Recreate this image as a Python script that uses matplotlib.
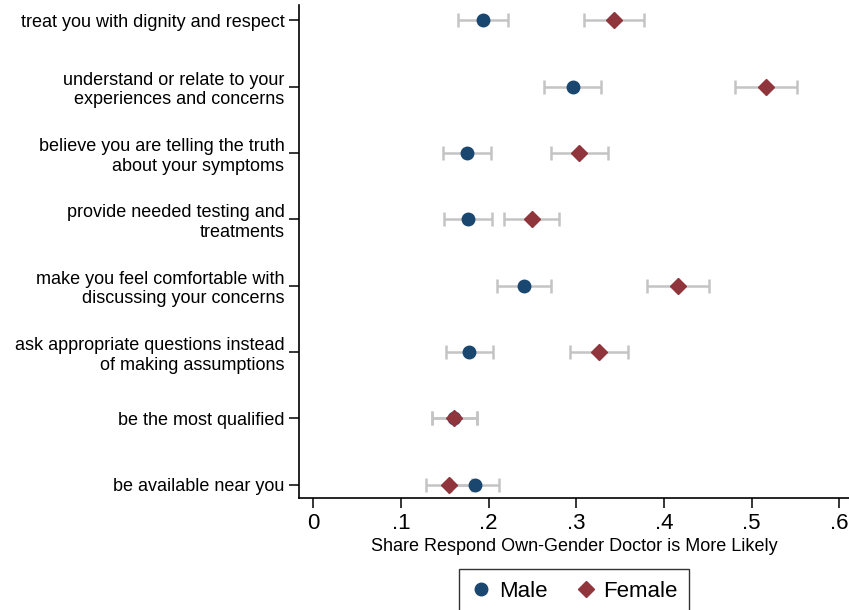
import matplotlib
matplotlib.use("Agg")
import matplotlib.pyplot as plt
import numpy as np

plt.rcParams['font.family'] = ['Liberation Sans', 'DejaVu Sans']

# categories, top to bottom
questions = [
    "treat you with dignity and respect",
    "understand or relate to your\nexperiences and concerns",
    "believe you are telling the truth\nabout your symptoms",
    "provide needed testing and\ntreatments",
    "make you feel comfortable with\ndiscussing your concerns",
    "ask appropriate questions instead\nof making assumptions",
    "be the most qualified",
    "be available near you",
]

male = [0.194, 0.296, 0.175, 0.177, 0.240, 0.178, 0.160, 0.184]
male_lo = [0.165, 0.263, 0.148, 0.149, 0.210, 0.151, 0.135, 0.157]
male_hi = [0.222, 0.328, 0.203, 0.204, 0.271, 0.205, 0.187, 0.212]

female = [0.343, 0.516, 0.303, 0.249, 0.416, 0.326, 0.161, 0.155]
female_lo = [0.309, 0.481, 0.271, 0.218, 0.381, 0.293, 0.135, 0.129]
female_hi = [0.377, 0.552, 0.336, 0.280, 0.451, 0.359, 0.187, 0.181]

xticks = [0, 0.1, 0.2, 0.3, 0.4, 0.5, 0.6]
xtick_labels = ["0", ".1", ".2", ".3", ".4", ".5", ".6"]

navy = "#1a476f"
maroon = "#90353b"
ci_gray = "#c4c4c4"

fig = plt.figure(figsize=(8.49, 6.10), dpi=100)
ax = fig.add_axes([299/849, 1 - 498/610, 550/849, 493/610])

y = np.arange(1, len(questions) + 1)
male = np.array(male)
female = np.array(female)

ax.errorbar(male, y, xerr=[male - np.array(male_lo), np.array(male_hi) - male],
            fmt='none', ecolor=ci_gray, elinewidth=1.8, capsize=5, capthick=1.8, zorder=1)
ax.errorbar(female, y, xerr=[female - np.array(female_lo), np.array(female_hi) - female],
            fmt='none', ecolor=ci_gray, elinewidth=1.8, capsize=5, capthick=1.8, zorder=1)
ax.plot(male, y, 'o', color=navy, markersize=9, linestyle='none', label="Male", zorder=3)
ax.plot(female, y, 'D', color=maroon, markersize=8, linestyle='none', label="Female", zorder=4)

ax.set_ylim(8.2, 0.77)
ax.set_xlim(-0.0163, 0.6112)
ax.set_yticks(y)
ax.set_yticklabels(questions, fontsize=13)
ax.set_xticks(xticks)
ax.set_xticklabels(xtick_labels, fontsize=16)
ax.set_xlabel("Share Respond Own-Gender Doctor is More Likely", fontsize=13, labelpad=3)

ax.spines['top'].set_visible(False)
ax.spines['right'].set_visible(False)
ax.spines['left'].set_linewidth(1.2)
ax.spines['bottom'].set_linewidth(1.2)
ax.tick_params(axis='both', direction='out', length=7, width=1.1, color='black')
ax.tick_params(axis='x', pad=4)

leg = ax.legend(loc='upper center', bbox_to_anchor=(0.5, -0.145), ncol=2, fontsize=16,
                frameon=True, fancybox=False, edgecolor='black', handletextpad=0.3,
                columnspacing=1.2, borderpad=0.5, borderaxespad=0, handlelength=1.0)
leg.get_frame().set_linewidth(1.0)

fig.savefig("out.png", dpi=100)
